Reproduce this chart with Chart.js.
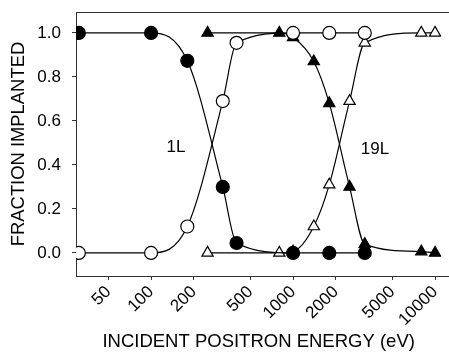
<!DOCTYPE html>
<html>
<head>
<meta charset="utf-8">
<script src="https://cdn.jsdelivr.net/npm/chart.js@4.4.0/dist/chart.umd.min.js"></script>
<style>
  html, body { margin: 0; padding: 0; background: #fff; }
  #wrap { width: 449px; height: 353px; }
</style>
</head>
<body>
<div id="wrap"><canvas id="chart" width="449" height="353"></canvas></div>
<script>
// energies (eV) and fractions
const circleEnergy = [31, 100, 180, 320, 400, 1000, 1800, 3200];
const filledCircle = [1.0, 1.0, 0.873, 0.30, 0.045, 0.0, 0.0, 0.0];
const openCircle = [0.0, 0.0, 0.12, 0.69, 0.955, 1.0, 1.0, 1.0];

const triangleEnergy = [250, 800, 1000, 1400, 1800, 2500, 3200, 8000, 10000];
const filledTriangle = [1.0, 1.0, 0.98, 0.87, 0.68, 0.30, 0.04, 0.006, 0.0];
const openTriangle = [0.0, 0.0, 0.006, 0.12, 0.31, 0.69, 0.955, 1.0, 1.0];

const xTicks = [50, 100, 200, 500, 1000, 2000, 5000, 10000];
const yTicks = [0.0, 0.2, 0.4, 0.6, 0.8, 1.0];

const labels = [
    { text: '1L', x: 150, y: 0.48 },
    { text: '19L', x: 3780, y: 0.47 }
];

const FONT = '"Liberation Sans", Arial, Helvetica, sans-serif';

function pts(xs, ys) {
    return xs.map((x, i) => ({ x: x, y: ys[i] }));
}

function series(xs, ys, style, filled) {
    return {
        data: pts(xs, ys),
        borderColor: '#000',
        borderWidth: 1.2,
        pointStyle: style,
        pointRadius: 6.5,
        pointHoverRadius: 6.5,
        pointBorderWidth: 1.2,
        pointBorderColor: '#000',
        pointBackgroundColor: filled ? '#000' : '#fff',
        cubicInterpolationMode: 'monotone',
        fill: false
    };
}

// scales should not push the plot area in for their end labels
function noPadding(s) {
    s.paddingLeft = s.paddingRight = s.paddingTop = s.paddingBottom = 0;
    s.getPadding = () => ({ left: 0, top: 0, right: 0, bottom: 0 });
}

const framePlugin = {
    id: 'frame',
    afterDraw(chart) {
        const ctx = chart.ctx;
        const a = chart.chartArea;
        const xs = chart.scales.x;
        const ys = chart.scales.y;
        ctx.save();
        // top rule and bottom axis run to the right edge of the picture
        ctx.strokeStyle = '#333';
        ctx.lineWidth = 1;
        ctx.beginPath();
        ctx.moveTo(a.left, a.top + 0.5);
        ctx.lineTo(chart.width, a.top + 0.5);
        ctx.moveTo(a.right - 1, a.bottom + 0.5);
        ctx.lineTo(chart.width, a.bottom + 0.5);
        ctx.stroke();

        ctx.fillStyle = '#000';
        ctx.font = '17px ' + FONT;
        ctx.textAlign = 'center';
        ctx.textBaseline = 'middle';
        labels.forEach(l => {
            ctx.fillText(l.text, xs.getPixelForValue(l.x), ys.getPixelForValue(l.y));
        });
        ctx.restore();
    }
};

new Chart(document.getElementById('chart'), {
    type: 'line',
    data: {
        datasets: [
            series(circleEnergy, filledCircle, 'circle', true),
            series(circleEnergy, openCircle, 'circle', false),
            series(triangleEnergy, filledTriangle, 'triangle', true),
            series(triangleEnergy, openTriangle, 'triangle', false)
        ]
    },
    options: {
        responsive: false,
        animation: false,
        devicePixelRatio: 1,
        layout: { padding: { top: 12, right: 0, left: 0, bottom: 0 } },
        plugins: {
            legend: { display: false },
            tooltip: { enabled: false }
        },
        scales: {
            x: {
                type: 'logarithmic',
                min: 29.6,
                max: 11070,
                afterBuildTicks: s => { s.ticks = xTicks.map(v => ({ value: v })); },
                afterFit: s => { s.height = 77; noPadding(s); },
                border: { display: true, color: '#333', width: 1 },
                grid: { display: true, drawOnChartArea: false, drawTicks: true, tickLength: 4, tickColor: '#333' },
                ticks: {
                    autoSkip: false,
                    maxRotation: 45,
                    minRotation: 45,
                    padding: 2,
                    color: '#000',
                    font: { family: FONT, size: 17 },
                    callback: v => String(v)
                },
                title: {
                    display: true,
                    text: 'INCIDENT POSITRON ENERGY (eV)',
                    color: '#000',
                    font: { family: FONT, size: 18.5, lineHeight: 1.2 },
                    padding: { top: 0, bottom: 0 }
                }
            },
            y: {
                type: 'linear',
                min: -0.105,
                max: 1.095,
                afterBuildTicks: s => { s.ticks = yTicks.map(v => ({ value: v })); },
                afterFit: s => { s.width = 76; noPadding(s); },
                border: { display: true, color: '#333', width: 1 },
                grid: { display: true, drawOnChartArea: false, drawTicks: true, tickLength: 4, tickColor: '#333' },
                ticks: {
                    padding: 11,
                    color: '#000',
                    font: { family: FONT, size: 17 },
                    callback: v => Number(v).toFixed(1)
                },
                title: {
                    display: true,
                    text: 'FRACTION IMPLANTED',
                    color: '#000',
                    font: { family: FONT, size: 18.4, lineHeight: 1.2 },
                    padding: { top: 8, bottom: 0 }
                }
            }
        }
    },
    plugins: [framePlugin]
});
</script>
</body>
</html>
